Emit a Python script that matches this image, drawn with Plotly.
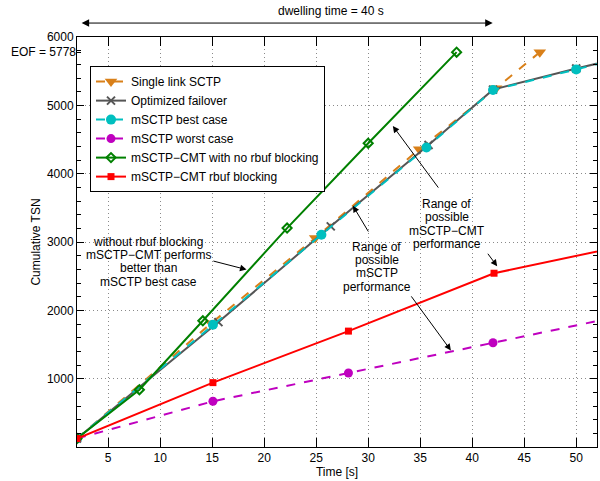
import plotly.graph_objects as go

# ---- data ----
single_x = [2, 14.9, 24.9, 34.9, 42.3, 46.5]
single_y = [124, 1810, 3058, 4358, 5250, 5778]

failover_x = [2, 15.6, 26.4, 35.8, 42, 50, 55]
failover_y = [124, 1828, 3229, 4420, 5230, 5540, 5715]

best_x = [2, 15.07, 25.5, 35.6, 42, 50, 55]
best_y = [124, 1788, 3107, 4383, 5224, 5526, 5711]

worst_x = [2, 15.07, 28.1, 42, 56]
worst_y = [124, 669, 1083, 1526, 1970]

cmt_norbuf_x = [2, 8, 14.1, 22.2, 30, 38.5]
cmt_norbuf_y = [124, 839, 1847, 3204, 4445, 5778]

cmt_rbuf_x = [2, 15.07, 28.1, 42.1, 56]
cmt_rbuf_y = [124, 942, 1696, 2543, 2990]

x_ticks = [5, 10, 15, 20, 25, 30, 35, 40, 45, 50]
y_ticks = [1000, 2000, 3000, 4000, 5000, 6000]
eof_value = 5778

note1_lines = ["without rbuf blocking", "mSCTP\u2212CMT performs", "better than", "mSCTP best case"]
note2_lines = ["Range of", "possible", "mSCTP\u2212CMT", "performance"]
note3_lines = ["Range of", "possible", "mSCTP", "performance"]

FONT = "Liberation Sans, Arial, Helvetica, sans-serif"
FS = 12

fig = go.Figure()

fig.add_trace(go.Scatter(
    x=single_x, y=single_y, name="Single link SCTP", mode="lines+markers",
    line=dict(color="#D98019", width=2, dash="dash"),
    marker=dict(symbol="triangle-down", size=11, color="#D98019")))
fig.add_trace(go.Scatter(
    x=failover_x, y=failover_y, name="Optimized failover", mode="lines+markers",
    line=dict(color="#555555", width=2),
    marker=dict(symbol="x-thin-open", size=8, color="#555555",
                line=dict(color="#555555", width=2))))
fig.add_trace(go.Scatter(
    x=best_x, y=best_y, name="mSCTP best case", mode="lines+markers",
    line=dict(color="#00BFBF", width=2, dash="dash"),
    marker=dict(symbol="circle", size=10, color="#00BFBF")))
fig.add_trace(go.Scatter(
    x=worst_x, y=worst_y, name="mSCTP worst case", mode="lines+markers",
    line=dict(color="#BF00BF", width=2, dash="dash"),
    marker=dict(symbol="circle", size=9, color="#BF00BF")))
fig.add_trace(go.Scatter(
    x=cmt_norbuf_x, y=cmt_norbuf_y, name="mSCTP\u2212CMT with no rbuf blocking",
    mode="lines+markers",
    line=dict(color="#008000", width=2),
    marker=dict(symbol="diamond-open", size=7, color="#008000",
                line=dict(color="#008000", width=2))))
fig.add_trace(go.Scatter(
    x=cmt_rbuf_x, y=cmt_rbuf_y, name="mSCTP\u2212CMT rbuf blocking",
    mode="lines+markers",
    line=dict(color="#FF0000", width=2),
    marker=dict(symbol="square", size=7, color="#FF0000")))

# invisible helper trace so the EOF axis is drawn
fig.add_trace(go.Scatter(x=[2], y=[eof_value], yaxis="y2", mode="markers",
                         marker=dict(opacity=0), showlegend=False, hoverinfo="skip"))

annotations = []


def add_lines(lines, xc, y_top, step):
    for i, t in enumerate(lines):
        annotations.append(dict(x=xc, y=y_top - i * step, xref="x", yref="y",
                                showarrow=False, text=t, align="center",
                                font=dict(size=FS, color="black", family=FONT)))


# line step of 13.3 px in data units (6000 units over 410 px)
STEP = 13.3 * 6000 / 410
add_lines(note1_lines, 8.86, 3004, STEP)
add_lines(note2_lines, 37.55, 3556, STEP)
add_lines(note3_lines, 30.82, 2931, STEP)

annotations.append(dict(x=26.4, y=1.063, xref="x", yref="paper", showarrow=False,
                        xanchor="center", yanchor="middle",
                        text="dwelling time = 40 s",
                        font=dict(size=FS, color="black", family=FONT)))

# arrows (head x,y ; tail ax,ay)
arrows = [
    (18.3, 2596, 14.97, 2727),
    (32.37, 4698, 36.85, 3774),
    (42.4, 2645, 41.4, 2850),
    (28.53, 3530, 30.1, 3131),
    (37.95, 1413, 34.04, 2226),
]
for hx, hy, tx, ty in arrows:
    annotations.append(dict(x=hx, y=hy, ax=tx, ay=ty, xref="x", yref="y",
                            axref="x", ayref="y", text="", showarrow=True,
                            arrowhead=2, arrowsize=1.3, arrowwidth=1,
                            arrowcolor="black", standoff=0, startstandoff=0))
# dwelling time double arrow
annotations.append(dict(x=41.97, y=1.034, ax=2.3, ay=0, xref="x", yref="paper",
                        axref="x", ayref="pixel", text="", showarrow=True,
                        arrowhead=2, startarrowhead=2, arrowside="end+start",
                        arrowsize=1.5, startarrowsize=1.5, arrowwidth=1,
                        arrowcolor="black", standoff=0, startstandoff=0))

fig.update_layout(
    width=600, height=481,
    margin=dict(l=77, r=3, t=37, b=34),
    paper_bgcolor="white", plot_bgcolor="white",
    font=dict(family=FONT, size=FS, color="black"),
    showlegend=True,
    legend=dict(x=0.025, y=0.929, xanchor="left", yanchor="top",
                bgcolor="white", bordercolor="black", borderwidth=1,
                font=dict(size=FS, family=FONT), tracegroupgap=0),
    xaxis=dict(range=[2, 52], tickvals=x_ticks, ticks="inside", ticklen=9,
               tickcolor="black", showline=True, linecolor="black", linewidth=1,
               mirror="ticks", showgrid=True, gridcolor="#8a8a8a", griddash="1px,3px",
               gridwidth=1, zeroline=False,
               title=dict(text="Time [s]", font=dict(size=FS), standoff=2),
               tickfont=dict(size=FS)),
    yaxis=dict(range=[0, 6000], tickvals=y_ticks, ticks="inside", ticklen=7,
               tickcolor="black", showline=True, linecolor="black", linewidth=1,
               mirror="ticks", showgrid=True, gridcolor="#8a8a8a", griddash="1px,3px",
               gridwidth=1, zeroline=False,
               minor=dict(dtick=200, ticks="inside", ticklen=4, tickcolor="black",
                          showgrid=False),
               title=dict(text="Cumulative TSN", font=dict(size=FS), standoff=3),
               tickfont=dict(size=FS)),
    yaxis2=dict(range=[0, 6000], overlaying="y", side="left", anchor="x",
                tickvals=[eof_value], ticktext=["EOF = %d" % eof_value],
                ticks="inside", ticklen=4, tickcolor="black", showgrid=False,
                zeroline=False, showline=False, tickfont=dict(size=FS)),
    annotations=annotations,
)

fig.write_html("out.html")
